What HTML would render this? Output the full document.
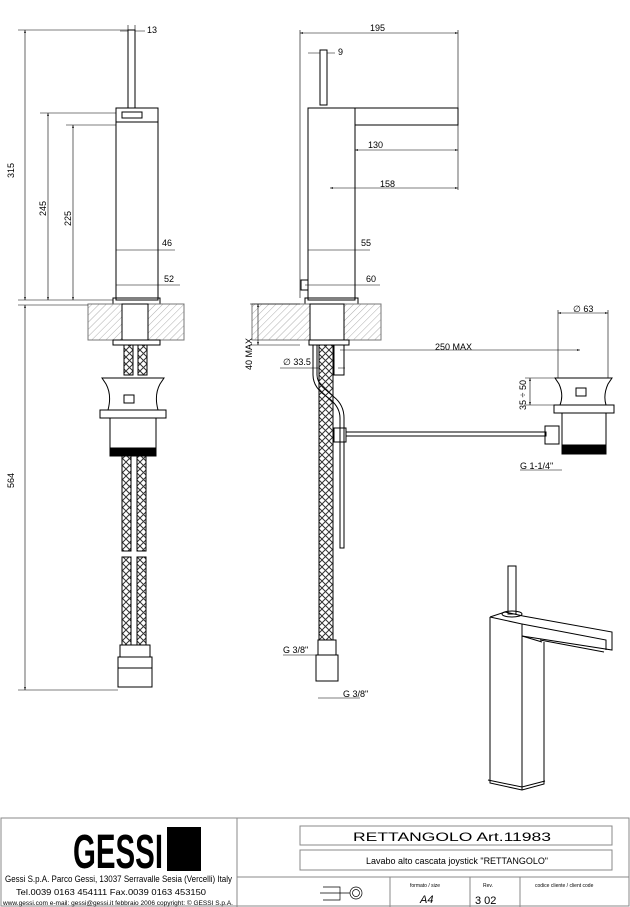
<!DOCTYPE html>
<html><head><meta charset="utf-8"><style>
html,body{margin:0;padding:0;background:#fff}
svg{display:block}
text{font-family:"Liberation Sans",sans-serif;fill:#000}
</style></head><body>
<svg width="630" height="907" viewBox="0 0 630 907" xmlns="http://www.w3.org/2000/svg">
<defs>
<pattern id="h" width="5" height="5" patternUnits="userSpaceOnUse" patternTransform="rotate(45)">
<line x1="0" y1="0" x2="0" y2="5" stroke="#999" stroke-width="0.8"/></pattern>
<pattern id="x" width="7" height="7" patternUnits="userSpaceOnUse">
<path d="M0 0L7 7M7 0L0 7" stroke="#333" stroke-width="1"/></pattern>
<marker id="a" markerWidth="6" markerHeight="6" refX="5" refY="3" orient="auto-start-reverse"><path d="M0 1.5L5 3L0 4.5z" fill="#000"/></marker>
</defs>
<g fill="none" stroke="#000" stroke-width="1">
<!-- LEFT VIEW -->
<rect x="128" y="30" width="7" height="78"/>
<rect x="116" y="108" width="42" height="192"/>
<line x1="116" y1="122" x2="158" y2="122"/>
<rect x="122" y="112" width="20" height="6"/>
<rect x="113" y="298" width="47" height="6"/>
<rect x="88" y="304" width="96" height="36" fill="url(#h)" stroke="#777"/>
<rect x="122" y="304" width="26" height="36" fill="#fff"/>
<rect x="113" y="340" width="47" height="5"/>
<rect x="124" y="345" width="9" height="30" fill="url(#x)"/>
<rect x="138" y="345" width="9" height="30" fill="url(#x)"/>
<path d="M102 378H164L160 384Q154 395 158 410H108Q112 395 106 384Z"/>
<rect x="124" y="395" width="10" height="8"/>
<path d="M100 410H166V418H100Z"/>
<rect x="110" y="418" width="46" height="30"/>
<rect x="110" y="448" width="46" height="8" fill="#000"/>
<rect x="122" y="456" width="9" height="95" fill="url(#x)"/>
<rect x="137" y="456" width="9" height="95" fill="url(#x)"/>
<rect x="122" y="557" width="9" height="88" fill="url(#x)"/>
<rect x="137" y="557" width="9" height="88" fill="url(#x)"/>
<rect x="120" y="645" width="30" height="12"/>
<rect x="118" y="657" width="34" height="30"/>
<line x1="118" y1="668" x2="152" y2="668"/>
<!-- MIDDLE VIEW -->
<rect x="320" y="50" width="7" height="55"/>
<rect x="308" y="108" width="47" height="192"/>
<rect x="355" y="108" width="103" height="17"/>
<rect x="301" y="280" width="7" height="10"/>
<rect x="305" y="298" width="53" height="6"/>
<rect x="252" y="304" width="129" height="36" fill="url(#h)" stroke="#777"/>
<rect x="310" y="304" width="34" height="36" fill="#fff"/>
<rect x="309" y="340" width="40" height="5"/>
<rect x="319" y="345" width="14" height="295" fill="url(#x)"/>
<rect x="334" y="345" width="10" height="30"/>
<path d="M313 345V375Q313 385 322 393L331 400Q340 408 340 418V548H344V418Q344 405 334 397L326 390Q317 383 317 375V345"/>
<rect x="334" y="428" width="12" height="14"/>
<rect x="346" y="432" width="200" height="4"/>
<rect x="545" y="426" width="14" height="18"/>
<rect x="318" y="640" width="18" height="15"/>
<rect x="316" y="655" width="22" height="26"/>
<!-- RIGHT DRAIN -->
<path d="M555 378H612L608 384Q603 395 606 405H560Q564 395 559 384Z"/>
<rect x="576" y="388" width="10" height="8"/>
<rect x="554" y="405" width="60" height="8"/>
<rect x="562" y="413" width="44" height="32"/>
<rect x="562" y="445" width="44" height="9" fill="#000"/>
<!-- 3D VIEW -->
<rect x="508" y="566" width="8" height="48"/>
<ellipse cx="512" cy="614" rx="10" ry="3"/>
<path d="M490 617L505 612L523 616"/>
<path d="M490 617L522 624V790"/>
<path d="M490 617V783L522 790L544 784V642"/>
<path d="M523 616L612 632V650L522 636"/>
<path d="M522 624L606 640V650M540 640L604 652"/>
<path d="M522 636L542 642"/>
<path d="M488 780L522 787L545 781"/>
<!-- DIMENSIONS -->
<g stroke-width="0.6">
<path d="M18 30H128M18 300H113M40 113H116M66 125H116M18 305H88M18 690H118"/>
<line x1="25" y1="30" x2="25" y2="300" marker-start="url(#a)" marker-end="url(#a)"/>
<line x1="48" y1="113" x2="48" y2="300" marker-start="url(#a)" marker-end="url(#a)"/>
<line x1="73" y1="125" x2="73" y2="300" marker-start="url(#a)" marker-end="url(#a)"/>
<line x1="25" y1="305" x2="25" y2="690" marker-start="url(#a)" marker-end="url(#a)"/>
<path d="M128 25V30M135 25V30M120 31H128M135 31H145"/>
<path d="M116 250H175M158 250H170M116 285H180M160 285H170"/>
<path d="M300 30V298M458 30V108"/>
<line x1="300" y1="33" x2="458" y2="33" marker-start="url(#a)" marker-end="url(#a)"/>
<path d="M308 53H320M327 53H335"/>
<line x1="355" y1="150" x2="458" y2="150" marker-start="url(#a)" marker-end="url(#a)"/>
<path d="M458 125V190"/>
<line x1="330" y1="188" x2="458" y2="188" marker-start="url(#a)" marker-end="url(#a)"/>
<path d="M308 250H370M305 285H380"/>
<path d="M250 304H300M250 345H300"/>
<line x1="258" y1="304" x2="258" y2="345" marker-start="url(#a)" marker-end="url(#a)"/>
<path d="M280 368H320M338 368H345"/>
<line x1="340" y1="350" x2="580" y2="350" marker-end="url(#a)"/>
<path d="M558 310V378M608 310V378"/>
<line x1="558" y1="313" x2="608" y2="313" marker-start="url(#a)" marker-end="url(#a)"/>
<path d="M525 378H555M525 405H555"/>
<line x1="530" y1="378" x2="530" y2="405" marker-start="url(#a)" marker-end="url(#a)"/>
<path d="M520 470H562"/>
<path d="M283 655H316M318 698H360"/>
</g>
<!-- TITLE BLOCK -->
<rect x="1" y="818" width="628" height="88" stroke="#888"/>
<line x1="237" y1="818" x2="237" y2="907" stroke="#888"/>
<rect x="300" y="826" width="312" height="19" stroke="#888"/>
<rect x="300" y="850" width="312" height="20" stroke="#888"/>
<path d="M237 877H629M390 877V907M470 877V907M520 877V907" stroke="#888"/>
<path d="M323 887H340V900H323M320 893H350" stroke-width="0.7"/>
<circle cx="356" cy="893" r="6" stroke-width="0.7"/><circle cx="356" cy="893" r="3.5" stroke-width="0.7"/>
</g>
<g font-size="9">
<text x="147" y="33">13</text>
<text transform="translate(14,178) rotate(-90)">315</text>
<text transform="translate(46,216) rotate(-90)">245</text>
<text transform="translate(71,226) rotate(-90)">225</text>
<text transform="translate(14,488) rotate(-90)">564</text>
<text x="162" y="246">46</text>
<text x="164" y="282">52</text>
<text x="370" y="31">195</text>
<text x="338" y="55">9</text>
<text x="368" y="148">130</text>
<text x="380" y="187">158</text>
<text x="361" y="246">55</text>
<text x="366" y="282">60</text>
<text transform="translate(252,370) rotate(-90)">40 MAX</text>
<text x="283" y="365">∅ 33.5</text>
<text x="435" y="350">250 MAX</text>
<text x="573" y="312">∅ 63</text>
<text transform="translate(526,410) rotate(-90)">35 ÷ 50</text>
<text x="520" y="469">G 1-1/4"</text>
<text x="283" y="653">G 3/8"</text>
<text x="343" y="697">G 3/8"</text>
</g>
<text x="73" y="868" font-size="48" font-weight="bold" transform="translate(0,0)" style="font-family:'Liberation Sans Narrow','Liberation Sans',sans-serif" textLength="90" lengthAdjust="spacingAndGlyphs">GESSI</text>
<rect x="167" y="827" width="34" height="44" fill="#000"/>
<text x="5" y="882" font-size="9" textLength="227" lengthAdjust="spacingAndGlyphs">Gessi S.p.A. Parco Gessi, 13037 Serravalle Sesia (Vercelli) Italy</text>
<text x="16" y="895" font-size="8.5" textLength="190" lengthAdjust="spacingAndGlyphs">Tel.0039 0163 454111 Fax.0039 0163 453150</text>
<text x="3" y="905" font-size="6" textLength="230" lengthAdjust="spacingAndGlyphs">www.gessi.com e-mail: gessi@gessi.it febbraio 2006 copyright: © GESSI S.p.A.</text>
<text x="353" y="841" font-size="12" textLength="198" lengthAdjust="spacingAndGlyphs">RETTANGOLO    Art.11983</text>
<text x="366" y="864" font-size="9" textLength="182" lengthAdjust="spacingAndGlyphs">Lavabo alto cascata joystick "RETTANGOLO"</text>
<text x="410" y="887" font-size="5">formato / size</text>
<text x="420" y="903" font-size="11" font-style="italic">A4</text>
<text x="483" y="887" font-size="5">Rev.</text>
<text x="475" y="904" font-size="11">3  02</text>
<text x="535" y="887" font-size="5">codice cliente / client code</text>
</svg>
</body></html>
